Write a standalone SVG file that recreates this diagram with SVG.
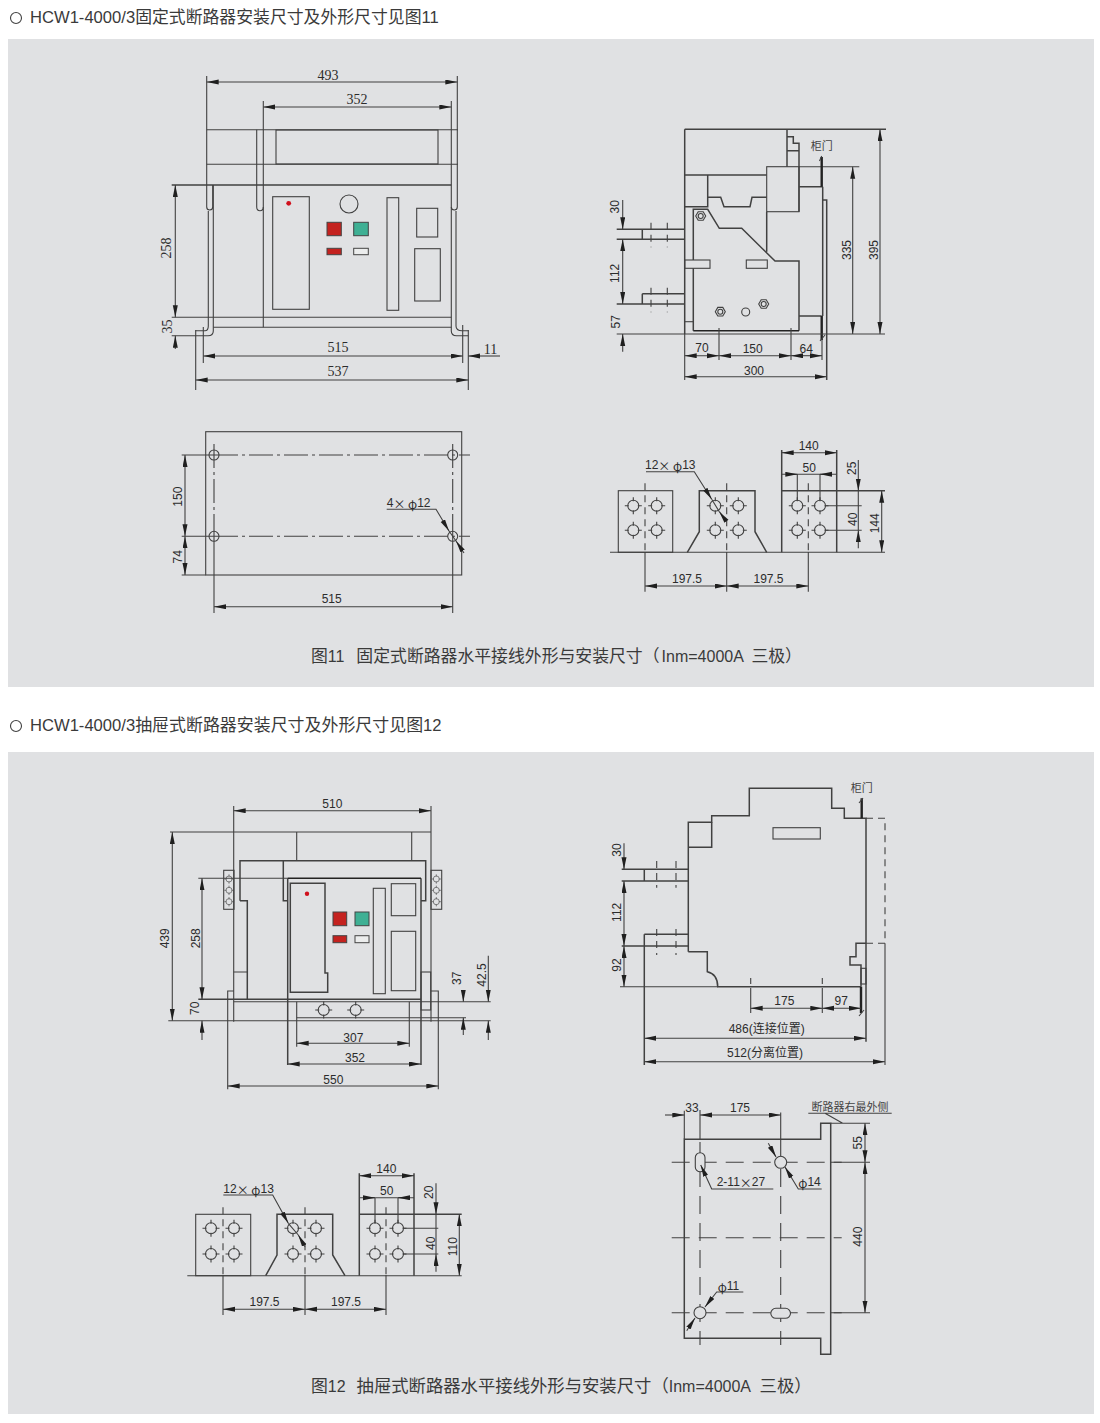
<svg xmlns="http://www.w3.org/2000/svg" xmlns:xlink="http://www.w3.org/1999/xlink" width="1100" height="1423" viewBox="0 0 1100 1423">
<style>
.bg{fill:#e0e1e3}
path,rect.b,circle.b{fill:none;stroke:#414141;stroke-width:1.1}
.o{stroke-width:1.5}
.k{stroke-width:2.4;stroke:#222}
.d{marker-start:url(#ah);marker-end:url(#ah)}
.a{marker-end:url(#ah)}
.c{stroke-dasharray:24 4 3 4}
.m{stroke-dasharray:18 9}
.v{stroke-dasharray:7 5}
text{fill:#2c2c2c;font-family:"Liberation Sans","Noto Sans CJK SC",sans-serif;font-size:12px;text-anchor:middle;dominant-baseline:central}
.s{font-family:"Liberation Serif","Noto Sans CJK SC",serif;font-size:14px}
.t{font-size:16px;text-anchor:start;fill:#3a3a3a;dominant-baseline:auto;white-space:pre}
.e{font-size:16.6px}
.h{font-size:16.85px}
.j{font-size:16.95px}
.q{font-size:17.35px}
.z{font-size:11px;fill:#444}
.l{text-anchor:start}
.x{font-family:"Noto Sans CJK SC",sans-serif}
.red{fill:#c4221f;stroke:#444;stroke-width:1}
.grn{fill:#3fb094;stroke:#444;stroke-width:1}
.wht{fill:#eceded;stroke:#444;stroke-width:1}
.dot{fill:#d0101c}
</style>
<defs>
<marker id="ah" markerUnits="userSpaceOnUse" markerWidth="13" markerHeight="6" refX="12" refY="2.5" orient="auto-start-reverse"><path d="M0 0L12 2.5L0 5Z" style="fill:#1f1f1f;stroke:none"/></marker>
<g id="hole"><circle class="b" r="5.5"/><path d="M-8.5 0H-4.5M4.5 0H8.5M0-8.5V-4.5M0 4.5V8.5"/></g>
<g id="hex"><path d="M-5 0L-2.5-4.3H2.5L5 0L2.5 4.3H-2.5Z"/><circle class="b" r="2.5"/></g>
</defs>

<rect width="1100" height="1423" fill="#ffffff"/>
<rect class="bg" x="8" y="39" width="1086" height="648"/>
<rect class="bg" x="8" y="752" width="1086" height="662"/>

<g id="heading-11"><circle class="b" cx="16" cy="18" r="5.5"/><text class="t e" x="30" y="23">HCW1-4000/3<tspan class="h">固定式断路器安装尺寸及外形尺寸见图</tspan>11</text></g>
<g id="heading-12"><circle class="b" cx="16" cy="726" r="5.5"/><text class="t e" x="30" y="731">HCW1-4000/3<tspan class="j">抽屉式断路器安装尺寸及外形尺寸见图</tspan>12</text></g>
<text id="caption-11" class="t" x="311" y="662"><tspan class="h">图</tspan>11  <tspan class="h" dx="3">固定式断路器水平接线外形与安装尺寸（</tspan><tspan dx="2">Inm=4000A </tspan><tspan class="h" dx="4">三极）</tspan></text>
<text id="caption-12" class="t" x="311" y="1392"><tspan class="h">图</tspan>12  <tspan class="q" dx="2">抽屉式断路器水平接线外形与安装尺寸（</tspan>Inm=4000A <tspan class="q" dx="5">三极）</tspan></text>

<g id="fig11-front">
<path d="M206.7 76V207Q206.7 210 209.7 210Q212.7 210 212.7 207V185"/>
<path d="M457.3 76V207Q457.3 210 454.3 210Q451.3 210 451.3 207"/>
<path d="M256.7 129.7V207Q256.7 210.7 260 210.7Q263.3 210.7 263.3 207"/>
<path d="M263.3 101V327.3M451.3 101V331Q451.3 335.7 456.5 335.7H468.3M456 211V326Q456 330.7 462 330.7H468.3"/>
<path d="M206.7 129.7H458M206.7 164.3H458"/>
<rect class="b o" x="276" y="130" width="162" height="34"/>
<path class="o" d="M171.7 185H451.3"/>
<path d="M208.3 211V326Q208.3 330.7 205 330.7H195.7M213.3 185V331Q213.3 335.7 208 335.7H171.7"/>
<path d="M171.7 317.3H451.3M213.3 327.3H451.3"/>
<rect class="b o" x="272.7" y="196.7" width="36.6" height="112.6"/>
<circle class="dot" cx="288.7" cy="203.3" r="2.4"/>
<circle class="b" cx="349" cy="204" r="9"/>
<rect class="red" x="327" y="222.3" width="14.3" height="13.4"/>
<rect class="grn" x="353.7" y="222.3" width="14.6" height="13.4"/>
<rect class="red" x="327" y="248.3" width="14.3" height="6.4"/>
<rect class="wht" x="353.7" y="248.3" width="14.6" height="6.4"/>
<rect class="b o" x="387" y="197.7" width="11.7" height="112.6"/>
<rect class="b o" x="416.7" y="208.3" width="21" height="28.7"/>
<rect class="b o" x="414.7" y="248.7" width="25.6" height="52.3"/>
<path d="M195.7 330V390M203.3 327V363M462.7 325V363M468.3 330V390"/>
<path class="d" d="M206.7 82H457.3"/>
<path class="d" d="M263.3 107H451.3"/>
<path class="d" d="M175.3 185V317.3"/>
<path class="a" d="M175.3 349V335.7"/>
<path class="d" d="M203.3 356H462.7"/>
<path class="d" d="M195.7 380H468.3"/>
<path class="a" d="M500 356H468.3"/>
<text class="s" x="328" y="75">493</text>
<text class="s" x="357" y="99.5">352</text>
<text class="s" x="166.5" y="248" transform="rotate(-90 166.5 248)">258</text>
<text class="s" x="167.5" y="326.5" transform="rotate(-90 167.5 326.5)">35</text>
<text class="s" x="338" y="347.5">515</text>
<text class="s" x="338" y="371.5">537</text>
<text class="s" x="490.5" y="349">11</text>
</g>

<g id="fig11-side">
<path class="o" d="M684.7 129.3V334M684.7 129.3H886M787 129.3V166.7M787 136.7H793.3V143.3H799V211.7M787 150.7H799"/>
<rect class="b o" x="766.7" y="166.7" width="32.3" height="45"/>
<path d="M799 166.7H859.3"/>
<path class="o" d="M684.7 175H766.7M707.7 175V206.7H684.7M707.7 197.3H720.7L724 206.7H750L752 197.3H766.7"/>
<path class="o" d="M693.3 268.3V330.7M693.3 260V209.3H707.7L719.3 228.3H741.7L775 261H799V330.7M766.7 211.7V251.7"/>
<path class="k" style="stroke-width:1.6" d="M693.3 330.7H799"/>
<rect class="b o" x="684.7" y="260" width="25.3" height="8.3"/>
<rect class="b o" x="746.3" y="260" width="21" height="8.3"/>
<path d="M684.7 321.7H693.3"/>
<path class="o" d="M799 186.7H822.7M799 316H821.7M822.7 186.7V316M822.7 200H826.7V380"/>
<path class="k" d="M821.7 157V186.7M821.7 316V340"/>
<path d="M819.5 161L821.7 156M820 341L825 335"/>
<use xlink:href="#hex" href="#hex" x="700.7" y="216"/>
<use xlink:href="#hex" href="#hex" x="720.3" y="311.7"/>
<use xlink:href="#hex" href="#hex" x="763.7" y="304"/>
<circle class="b" cx="745.7" cy="312" r="4"/>
<path class="o" d="M616.7 229.3H684.7M616.7 239.3H684.7M642.3 229.3V239.3M642.3 293.7V304M642.3 293.7H684.7M616.7 304H684.7"/>
<path class="v" d="M651 222.7V247.3M667.3 222.7V247.3M651 287.7V312.3M667.3 287.7V312.3"/>
<path d="M616.7 334H885"/>
<path class="a" d="M622.7 200V229.3"/>
<path class="d" d="M622.7 239.3V304"/>
<path class="a" d="M622.7 351.7V334"/>
<path class="d" d="M880 129.3V334"/>
<path class="d" d="M852.7 166.7V334"/>
<path d="M719 328V360M791 328V360M822 340V360M684.7 334V380"/>
<path class="d" d="M684.7 355.7H719"/><path class="d" d="M719 355.7H791"/><path class="d" d="M791 355.7H822"/>
<path class="d" d="M684.7 376.7H826.7"/>
<text x="615" y="206.7" transform="rotate(-90 615 206.7)">30</text>
<text x="615" y="273.3" transform="rotate(-90 615 273.3)">112</text>
<text x="615.7" y="321.7" transform="rotate(-90 615.7 321.7)">57</text>
<text x="847.3" y="250" transform="rotate(-90 847.3 250)">335</text>
<text x="874" y="250" transform="rotate(-90 874 250)">395</text>
<text x="702" y="348">70</text><text x="752.7" y="348.5">150</text><text x="806.3" y="348.5">64</text><text x="754" y="370.5">300</text>
<text class="z" x="821.7" y="146">柜门</text>
</g>

<g id="fig11-mount">
<rect class="b o" x="205.7" y="431.7" width="256" height="143.3"/>
<circle class="b" cx="214" cy="455" r="5"/><circle class="b" cx="452.7" cy="455" r="5"/><circle class="b" cx="214" cy="536.3" r="5"/><circle class="b" cx="452.7" cy="536.3" r="5"/>
<path d="M181.7 455H214M181.7 536.3H214M181.7 575H205.7"/>
<path class="c" d="M214 455H470M214 536.3H470"/>
<path class="c" d="M214 444V536"/><path class="c" d="M452.7 444V536"/>
<path d="M214 536V613M452.7 536V613"/>
<path class="d" d="M185 455V536.3"/><path class="d" d="M185 536.3V575"/>
<path class="d" d="M214 606.7H452.7"/>
<path class="a" d="M386.7 509.3H436L449 531"/>
<path class="a" d="M464 553L456 541"/>
<path d="M449 531L456 541"/>
<text x="178.3" y="496.7" transform="rotate(-90 178.3 496.7)">150</text>
<text x="178.3" y="556.7" transform="rotate(-90 178.3 556.7)">74</text>
<text x="331.7" y="599">515</text>
<text class="l" x="386.7" y="503.3">4<tspan class="x">× φ</tspan>12</text>
</g>

<g id="fig11-bus">
<path d="M610 552.3H885"/>
<rect class="b o" x="618.3" y="490.7" width="54.4" height="61.6"/>
<path class="o" d="M687.3 552.3L699.3 531.7V490.7H755V531.7L766.7 552.3"/>
<path class="o" d="M781.7 450V552.3M836.7 450V552.3M781.7 490.7H885"/>
<use xlink:href="#hole" href="#hole" x="633.3" y="505.7"/><use xlink:href="#hole" href="#hole" x="656.7" y="505.7"/><use xlink:href="#hole" href="#hole" x="633.3" y="530.3"/><use xlink:href="#hole" href="#hole" x="656.7" y="530.3"/>
<use xlink:href="#hole" href="#hole" x="715.3" y="505.7"/><use xlink:href="#hole" href="#hole" x="738.3" y="505.7"/><use xlink:href="#hole" href="#hole" x="715.3" y="530.3"/><use xlink:href="#hole" href="#hole" x="738.3" y="530.3"/>
<use xlink:href="#hole" href="#hole" x="797.3" y="505.7"/><use xlink:href="#hole" href="#hole" x="820" y="505.7"/><use xlink:href="#hole" href="#hole" x="797.3" y="530.3"/><use xlink:href="#hole" href="#hole" x="820" y="530.3"/>
<path class="v" d="M645 483.3V552M726.7 483.3V552M808.3 483.3V552"/>
<path d="M645 552V591.7M726.7 552V591.7M808.3 552V591.7"/>
<path class="d" d="M645 586H726.7"/><path class="d" d="M726.7 586H808.3"/>
<path class="d" d="M781.7 452.7H836.7"/>
<path d="M781.7 474.3H836.7M797.3 474.3V500M820 474.3V500M825 505.7H861.7M825 530.3H861.7"/>
<path class="a" d="M786 474.3H797.3"/><path class="a" d="M831 474.3H820"/>
<path class="a" d="M858.3 460V490.7"/><path d="M858.3 490.7V530.3"/><path class="a" d="M858.3 548.3V530.3"/>
<path class="d" d="M881.7 490.7V552.3"/>
<path class="a" d="M646 471.7H694.3L711.7 499.3"/>
<path class="a" d="M726.7 521.7L719.3 511.7"/><path d="M711.7 499.3L719.3 511.7"/>
<text x="687" y="579">197.5</text><text x="768.5" y="579">197.5</text>
<text x="808.7" y="445.7">140</text><text x="809.3" y="467.7">50</text>
<text x="875" y="523.3" transform="rotate(-90 875 523.3)">144</text>
<text x="852.7" y="519.3" transform="rotate(-90 852.7 519.3)">40</text>
<text x="851.7" y="468.3" transform="rotate(-90 851.7 468.3)">25</text>
<text class="l" x="645" y="465">12<tspan class="x">× φ</tspan>13</text>
</g>

<g id="fig12-front">
<path d="M233.7 806V1021.7M431 806V1021.7"/>
<path d="M170 832H431M296.7 832V860.7M411.7 832V860.7"/>
<path class="o" d="M240 900.7V860.7H425.7V900.7H421M240 900.7H247.3V999.3M283.3 860.7V900.7H287.7"/>
<path class="o" d="M287.7 878.3V1065M421 878.3V1065"/>
<path class="k" style="stroke-width:1.6" d="M287.7 878.3H421"/>
<path d="M198.3 878.3H287.7"/>
<path class="o" d="M290.3 883.3H325V973H327.7V992.3H290.3Z"/>
<circle class="dot" cx="307" cy="893.7" r="2.2"/>
<rect class="red" x="333" y="912" width="13.7" height="13.7"/>
<rect class="grn" x="355" y="912" width="14" height="13.7"/>
<rect class="red" x="333" y="935.7" width="13.7" height="7"/>
<rect class="wht" x="355" y="935.7" width="14" height="7"/>
<rect class="b o" x="373.3" y="888.3" width="12" height="105.4"/>
<rect class="b o" x="391.3" y="883.7" width="24.4" height="32"/>
<rect class="b o" x="391.3" y="931.3" width="24.4" height="59.4"/>
<path class="o" d="M198.3 999.3H421"/>
<path d="M233.7 1001.7H490.7M296.7 1017.7H466M168.3 1020.7H490.7"/>
<path d="M296.7 1001.7V1046.7M409.3 1001.7V1046.7"/>
<use xlink:href="#hole" href="#hole" x="323.7" y="1010"/><use xlink:href="#hole" href="#hole" x="355.7" y="1010"/>
<path d="M227.7 1089.3V991H233.7M438.3 1089.3V991H431M233.7 972H247.3"/>
<rect class="b" x="421" y="972" width="9.7" height="38"/>
<rect class="b" x="223.7" y="870.3" width="10.3" height="39"/>
<rect class="b" x="431" y="870.3" width="10.7" height="39"/>
<g transform="translate(229 879) scale(.55)"><use xlink:href="#hole" href="#hole"/></g>
<g transform="translate(229 890.3) scale(.55)"><use xlink:href="#hole" href="#hole"/></g>
<g transform="translate(229 901.7) scale(.55)"><use xlink:href="#hole" href="#hole"/></g>
<g transform="translate(436.3 879) scale(.55)"><use xlink:href="#hole" href="#hole"/></g>
<g transform="translate(436.3 890.3) scale(.55)"><use xlink:href="#hole" href="#hole"/></g>
<g transform="translate(436.3 901.7) scale(.55)"><use xlink:href="#hole" href="#hole"/></g>
<path class="d" d="M233.7 810.7H431"/>
<path class="d" d="M172.3 832V1020.7"/>
<path class="d" d="M202 878.3V999.3"/>
<path class="a" d="M202 1040V1020.7"/>
<path class="a" d="M463.3 990V1001.7"/><path class="a" d="M463.3 1035V1017.7"/>
<path class="a" d="M488.3 955.7V1001.7"/><path class="a" d="M488.3 1040V1020.7"/>
<path class="d" d="M296.7 1043.3H409.3"/>
<path class="d" d="M287.7 1064H421"/>
<path class="d" d="M227.7 1086H438.3"/>
<text x="332.3" y="804">510</text>
<text x="165" y="938.3" transform="rotate(-90 165 938.3)">439</text>
<text x="195.7" y="938.3" transform="rotate(-90 195.7 938.3)">258</text>
<text x="195" y="1008.3" transform="rotate(-90 195 1008.3)">70</text>
<text x="456.7" y="978.3" transform="rotate(-90 456.7 978.3)">37</text>
<text x="481.7" y="975" transform="rotate(-90 481.7 975)">42.5</text>
<text x="353.3" y="1038.3">307</text><text x="355" y="1058.3">352</text><text x="333.3" y="1080">550</text>
</g>

<g id="fig12-side">
<path class="o" d="M688.3 951.7V822.3H711.7V815.7H749.3V788.3H831.7V808.3H844.3V818.3H866V1041.7"/>
<path class="o" d="M688.3 847.3H711.7V822.3M688.3 951.7H707.3V971.7Q717.7 974 717.7 986.7H861"/>
<path d="M620 986.7H717.7"/>
<rect class="b o" x="773" y="827.7" width="47.3" height="11.3"/>
<path class="k" d="M861.7 798.3V818.3M861 986.7V1013"/>
<path d="M859 803L863 798M859 1016L864 1010"/>
<path class="v" d="M866 818.3H885V943.3H866"/>
<path d="M885 943.3V1065"/>
<path class="o" d="M866 943.3H856V956.7H850V965H861V986.7"/>
<rect class="b" x="861" y="968.3" width="5" height="15.7"/>
<path class="o" d="M621.7 869.3H688.3M621.7 881H688.3M644.3 869.3V881M644.3 934.3H688.3M621.7 946H688.3M644.3 934.3V1065"/>
<path class="v" d="M656.7 861V887.7M676 861V887.7M656.7 929V955M676 929V955"/>
<path class="a" d="M624 843.3V869.3"/>
<path class="d" d="M624 881V946"/>
<path class="d" d="M624 946V986.7"/>
<path d="M750.7 978V984M750.7 988V1013M822.3 978V984M822.3 988V1013"/>
<path class="d" d="M750.7 1008.3H822.3"/><path class="d" d="M822.3 1008.3H861"/>
<path class="d" d="M644.3 1038.3H866"/>
<path class="d" d="M644.3 1061.7H885"/>
<text x="617.3" y="850" transform="rotate(-90 617.3 850)">30</text>
<text x="616.7" y="912.3" transform="rotate(-90 616.7 912.3)">112</text>
<text x="616.7" y="965" transform="rotate(-90 616.7 965)">92</text>
<text x="784.3" y="1000.7">175</text><text x="841.3" y="1000.7">97</text>
<text x="766.7" y="1029">486(连接位置)</text>
<text x="765" y="1053">512(分离位置)</text>
<text class="z" x="861.7" y="787.7">柜门</text>
</g>

<g id="fig12-mount">
<path class="o" d="M684.3 1139.3H820.7V1123.3H830.7V1354.3H820.7V1338.3H684.3Z"/>
<path d="M830.7 1123.3H870M808.3 1113.3H891.7M825 1113.3L842.7 1123.3"/>
<path d="M684.3 1110.7V1139M700 1110V1139M780.7 1112.5V1142"/>
<path class="m" d="M671.7 1162.3H841.7M671.7 1237.7H841.7M671.7 1312.7H841.7M700 1142V1345M780.7 1142V1345"/>
<path d="M830.7 1162.3H870M830.7 1312.7H870"/>
<rect class="b o" x="695.3" y="1152.7" width="9.7" height="19" rx="4.8" style="fill:#e0e1e3"/>
<circle class="b o" cx="780.7" cy="1162.3" r="6" style="fill:#e0e1e3"/>
<circle class="b o" cx="700" cy="1312.7" r="6" style="fill:#e0e1e3"/>
<rect class="b o" x="770.8" y="1308.3" width="19.7" height="10" rx="5" style="fill:#e0e1e3"/>
<path class="a" d="M665 1115H684.3"/><path class="d" d="M700 1115H780.7"/>
<path class="d" d="M865 1123.3V1162.3"/><path class="d" d="M865 1162.3V1312.7"/>
<path class="a" d="M773.3 1189H711.7L700.7 1165"/>
<path class="a" d="M821.7 1189H798.3L785 1167"/>
<path class="a" d="M768.3 1143.3L776 1157"/>
<path class="a" d="M743.3 1292H716.7L705 1307"/>
<path class="a" d="M686.7 1330.7L695 1318"/>
<text x="692" y="1107.7">33</text><text x="740" y="1107.7">175</text>
<text x="858.3" y="1142.7" transform="rotate(-90 858.3 1142.7)">55</text>
<text x="858.3" y="1236.7" transform="rotate(-90 858.3 1236.7)">440</text>
<text class="l" x="716.7" y="1182.3">2-11<tspan class="x">×</tspan>27</text>
<text class="l" x="798.3" y="1182.3"><tspan class="x">φ</tspan>14</text>
<text class="l" x="717.7" y="1286"><tspan class="x">φ</tspan>11</text>
<text class="z" x="850" y="1106.7">断路器右最外侧</text>
</g>

<g id="fig12-bus">
<path d="M187.3 1275.7H461.7"/>
<rect class="b o" x="195.7" y="1214.3" width="55" height="61.4"/>
<path class="o" d="M265.7 1275.7L277 1255V1214.3H332.7V1255L345 1275.7"/>
<path class="o" d="M359.3 1173.3V1275.7M414 1173.3V1275.7M359.3 1214.3H461.7"/>
<use xlink:href="#hole" href="#hole" x="211" y="1228.3"/><use xlink:href="#hole" href="#hole" x="234" y="1228.3"/><use xlink:href="#hole" href="#hole" x="211" y="1254"/><use xlink:href="#hole" href="#hole" x="234" y="1254"/>
<use xlink:href="#hole" href="#hole" x="293" y="1228.3"/><use xlink:href="#hole" href="#hole" x="316" y="1228.3"/><use xlink:href="#hole" href="#hole" x="293" y="1254"/><use xlink:href="#hole" href="#hole" x="316" y="1254"/>
<use xlink:href="#hole" href="#hole" x="375" y="1228.3"/><use xlink:href="#hole" href="#hole" x="398" y="1228.3"/><use xlink:href="#hole" href="#hole" x="375" y="1254"/><use xlink:href="#hole" href="#hole" x="398" y="1254"/>
<path class="v" d="M223 1207.3V1275M305 1207.3V1275M386 1207.3V1275"/>
<path d="M223 1275V1315M305 1275V1315M386 1275V1315"/>
<path class="d" d="M223 1309.3H305"/><path class="d" d="M305 1309.3H386"/>
<path class="d" d="M359.3 1175.7H414"/>
<path d="M359.3 1197.7H414M375 1197.7V1223M398 1197.7V1223M403 1228.3H438.3M403 1254H438.3"/>
<path class="a" d="M364 1197.7H375"/><path class="a" d="M409 1197.7H398"/>
<path class="a" d="M436 1183.3V1214.3"/><path d="M436 1214.3V1254"/><path class="a" d="M436 1271.7V1254"/>
<path class="d" d="M459.3 1214.3V1275.7"/>
<path class="a" d="M223.3 1195H272.7L288.3 1223.3"/>
<path class="a" d="M305 1246.7L298.3 1235"/><path d="M288.3 1223.3L298.3 1235"/>
<text x="264.5" y="1302">197.5</text><text x="346" y="1302">197.5</text>
<text x="386.3" y="1169">140</text><text x="386.7" y="1190.7">50</text>
<text x="429.3" y="1192.3" transform="rotate(-90 429.3 1192.3)">20</text>
<text x="430.7" y="1243.3" transform="rotate(-90 430.7 1243.3)">40</text>
<text x="453.3" y="1246.7" transform="rotate(-90 453.3 1246.7)">110</text>
<text class="l" x="223.3" y="1189">12<tspan class="x">× φ</tspan>13</text>
</g>
</svg>
